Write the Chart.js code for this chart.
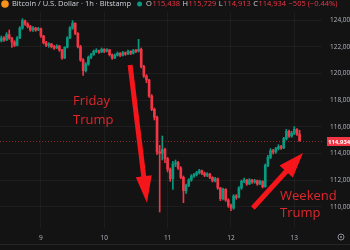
<!DOCTYPE html>
<html>
<head>
<meta charset="utf-8">
<script src="https://cdn.jsdelivr.net/npm/chart.js@4.4.1/dist/chart.umd.min.js"></script>
<style>
  html, body { margin: 0; padding: 0; background: #131313; }
  #wrap { width: 350px; height: 250px; }
</style>
</head>
<body>
<div id="wrap"><canvas id="btcChart" width="350" height="250"></canvas></div>
<script>
// BTC / USD, 1h candles from Bitstamp, first candle is 09:00 on the 8th
const opens = [
  122450, 122650, 122500, 122900, 122650, 122350, 122100, 122650, 123400, 123950, 123700, 123500,
  123250, 123400, 123250, 123350, 122800, 122300, 122100, 122200, 122000, 121900, 122050, 121750,
  121150, 121950, 122650, 123400, 123750, 123000, 122000, 121000, 120200, 120700, 121200, 121400,
  121650, 121700, 121600, 121800, 121650, 121750, 121400, 121150, 121350, 121500, 121350, 121550,
  121450, 121650, 121500, 121700, 121650, 121800, 120500, 119800, 119500, 118300, 117300, 116700,
  114100, 114000, 114300, 113600, 112800, 112100, 113200, 113300, 112900, 112200, 111200, 111600,
  112000, 112300, 112400, 112550, 112700, 112500, 112350, 112450, 112200, 111950, 112100, 111400,
  110600, 111300, 110500, 110100, 109900, 110800, 110700, 111400, 111900, 112000, 111700, 112000,
  111850, 111950, 111700, 111900, 111500, 113100, 113700, 114200, 114100, 114350, 114500, 114400,
  115100, 115650, 115300, 115500, 115800, 115438
];
const highs = [
  122800, 122750, 123050, 123250, 122700, 122450, 122750, 123500, 124100, 124000, 123800, 123600,
  123500, 123450, 123450, 123400, 122850, 122400, 122300, 122250, 122100, 122150, 122100, 121800,
  122000, 122750, 123500, 123950, 123800, 123050, 122100, 121100, 120800, 121300, 121500, 121750,
  121850, 121750, 121900, 121850, 121850, 121800, 121450, 121450, 121600, 121550, 121650, 121600,
  121750, 121700, 121800, 121800, 122550, 121900, 120600, 119900, 119550, 118400, 117400, 116800,
  114600, 115300, 114400, 113700, 112900, 113400, 113500, 113400, 113000, 112300, 111700, 112100,
  112400, 112500, 112650, 112800, 112750, 112600, 112550, 112500, 112250, 112200, 112150, 111450,
  111400, 111350, 110600, 110200, 110900, 110900, 111500, 112000, 112150, 112050, 112100, 112050,
  112050, 112000, 112000, 111950, 113200, 113850, 114350, 114300, 114450, 114650, 114600, 115200,
  115800, 115750, 115650, 116000, 115850, 115729
];
const lows = [
  122350, 122400, 122450, 122550, 121950, 122000, 122050, 122600, 123300, 123600, 123400, 123150,
  123150, 123150, 123200, 122700, 122200, 122000, 121950, 121900, 121800, 121850, 121650, 121050,
  121100, 121900, 122600, 123300, 122900, 121900, 120900, 119850, 120100, 120600, 121100, 121350,
  121550, 121500, 121550, 121550, 121600, 121300, 121050, 121100, 121300, 121250, 121300, 121350,
  121400, 121400, 121450, 121550, 121600, 120400, 119700, 119300, 118200, 117200, 116500, 113900,
  109600, 113500, 113300, 112600, 111900, 111300, 113000, 112800, 112100, 110300, 111000, 111500,
  111900, 112200, 112300, 112450, 112400, 112250, 112250, 112100, 111850, 111850, 111300, 110450,
  110500, 110400, 109950, 109700, 109800, 110550, 110650, 111300, 111800, 111600, 111650, 111750,
  111750, 111600, 111650, 111400, 111450, 113000, 113600, 113950, 114000, 114250, 114300, 114350,
  115000, 115200, 115200, 115400, 115350, 114913
];
const closes = [
  122650, 122500, 122900, 122650, 122350, 122100, 122650, 123400, 123950, 123700, 123500, 123250,
  123400, 123250, 123350, 122800, 122300, 122100, 122200, 122000, 121900, 122050, 121750, 121150,
  121950, 122650, 123400, 123750, 123000, 122000, 121000, 120200, 120700, 121200, 121400, 121650,
  121700, 121600, 121800, 121650, 121750, 121400, 121150, 121350, 121500, 121350, 121550, 121450,
  121650, 121500, 121700, 121650, 121800, 120500, 119800, 119500, 118300, 117300, 116700, 114100,
  114000, 114300, 113600, 112800, 112100, 113200, 113300, 112900, 112200, 111200, 111600, 112000,
  112300, 112400, 112550, 112700, 112500, 112350, 112450, 112200, 111950, 112100, 111400, 110600,
  111300, 110500, 110100, 109900, 110800, 110700, 111400, 111900, 112000, 111700, 112000, 111850,
  111950, 111700, 111900, 111500, 113100, 113700, 114200, 114100, 114350, 114500, 114400, 115100,
  115650, 115300, 115500, 115800, 115439, 114934
];

const firstDay = 8;
const firstHour = 9;
const emptySlots = 8;          // free space right of the last candle
const dayTicks = ['9', '10', '11', '12', '13'];
const priceTicks = [110000, 112000, 114000, 116000, 118000, 120000, 122000, 124000];
const priceMin = 108400;
const priceMax = 124600;

const GREEN = '#089981';
const RED = '#f23645';
const ARROW_RED = '#f5161b';
const TEXT_RED = '#e0262c';

// hourly slots
const slots = [];
for (let i = 0; i < closes.length + emptySlots; i++) {
    const h = firstHour + i;
    slots.push({ day: firstDay + Math.floor(h / 24), hour: h % 24 });
}
const labels = slots.map(s => s.day + ' ' + s.hour + ':00');

const bodies = opens.map((o, i) => [o, closes[i]]);
const wicks = lows.map((l, i) => [l, highs[i]]);

function candleColor(ctx) {
    const i = ctx.dataIndex;
    return closes[i] >= opens[i] ? GREEN : RED;
}

// Annotations (data coordinates: slot index, price)
const notes = [
    { text: 'Friday', at: [27.2, 117925] },
    { text: 'Trump', at: [27.2, 116500] },
    { text: 'Weekend', at: [105.6, 110800] },
    { text: 'Trump', at: [105.6, 109525] }
];
const arrows = [
    { from: [48.8, 120625], to: [55.2, 110275], head: 27, half: 8 },
    { from: [95.3, 109900], to: [114.3, 114025], head: 25, half: 9 }
];

function fmt(v) {
    return v.toLocaleString('en-US');
}

const overlay = {
    id: 'overlay',
    beforeDraw(chart) {
        const ctx = chart.ctx;
        ctx.save();
        ctx.fillStyle = '#131313';
        ctx.fillRect(0, 0, chart.width, chart.height);
        ctx.restore();
    },
    afterDatasetsDraw(chart) {
        const { ctx, chartArea } = chart;
        const x = chart.scales.x;
        const y = chart.scales.y;
        const last = closes.length - 1;

        ctx.save();

        // last price line
        const py = Math.round(y.getPixelForValue(closes[last])) + 0.5;
        ctx.strokeStyle = 'rgba(242, 54, 69, 0.55)';
        ctx.lineWidth = 1;
        ctx.setLineDash([1, 2]);
        ctx.beginPath();
        ctx.moveTo(chartArea.left, py);
        ctx.lineTo(chartArea.right, py);
        ctx.stroke();
        ctx.setLineDash([]);

        // arrows
        ctx.fillStyle = ARROW_RED;
        ctx.strokeStyle = ARROW_RED;
        arrows.forEach(a => {
            const x1 = x.getPixelForValue(a.from[0]);
            const y1 = y.getPixelForValue(a.from[1]);
            const x2 = x.getPixelForValue(a.to[0]);
            const y2 = y.getPixelForValue(a.to[1]);
            const len = Math.hypot(x2 - x1, y2 - y1);
            const ux = (x2 - x1) / len;
            const uy = (y2 - y1) / len;
            const bx = x2 - ux * a.head;
            const by = y2 - uy * a.head;

            ctx.lineWidth = 5;
            ctx.lineCap = 'butt';
            ctx.beginPath();
            ctx.moveTo(x1, y1);
            ctx.lineTo(bx + ux * 2, by + uy * 2);
            ctx.stroke();

            ctx.beginPath();
            ctx.moveTo(x2, y2);
            ctx.lineTo(bx - uy * a.half, by + ux * a.half);
            ctx.lineTo(bx + uy * a.half, by - ux * a.half);
            ctx.closePath();
            ctx.fill();
        });

        // annotation text
        ctx.fillStyle = TEXT_RED;
        ctx.font = '13px "Open Sans", "Noto Sans", sans-serif';
        ctx.textAlign = 'left';
        ctx.textBaseline = 'middle';
        notes.forEach(n => {
            ctx.fillText(n.text, x.getPixelForValue(n.at[0]), y.getPixelForValue(n.at[1]));
        });

        // last price tag on the axis
        ctx.fillStyle = RED;
        ctx.fillRect(chartArea.right + 5, py - 4.5, chart.width - chartArea.right - 5, 9);
        ctx.fillStyle = '#ffffff';
        ctx.font = 'bold 6px "Open Sans", sans-serif';
        ctx.fillText(fmt(closes[last]), chartArea.right + 6, py + 0.5);

        // header line
        ctx.fillStyle = '#f7931a';
        ctx.beginPath();
        ctx.arc(5, 4, 3.8, 0, Math.PI * 2);
        ctx.fill();

        ctx.font = '7.5px "Open Sans", "Noto Sans", sans-serif';
        ctx.textBaseline = 'middle';
        ctx.fillStyle = '#d1d4dc';
        const title = 'Bitcoin / U.S. Dollar · 1h · Bitstamp';
        ctx.fillText(title, 12, 4);
        let hx = 12 + ctx.measureText(title).width + 6;

        ctx.fillStyle = GREEN;
        ctx.beginPath();
        ctx.arc(hx + 2.5, 4, 2.5, 0, Math.PI * 2);
        ctx.fill();
        hx += 9;

        const change = closes[last] - closes[last - 1];
        const pct = change / closes[last - 1] * 100;
        const parts = [
            ['O', '#d1d4dc'], [fmt(opens[last]) + ' ', RED],
            ['H', '#d1d4dc'], [fmt(highs[last]) + ' ', RED],
            ['L', '#d1d4dc'], [fmt(lows[last]) + ' ', RED],
            ['C', '#d1d4dc'], [fmt(closes[last]) + ' ', RED],
            ['\u2212' + fmt(Math.abs(change)) + ' (\u2212' + Math.abs(pct).toFixed(2) + '%)', RED]
        ];
        parts.forEach(p => {
            ctx.fillStyle = p[1];
            ctx.fillText(p[0], hx, 4);
            hx += ctx.measureText(p[0]).width + 0.5;
        });

        // bottom strip
        ctx.strokeStyle = '#262626';
        ctx.lineWidth = 1;
        ctx.beginPath();
        ctx.moveTo(0, 244.5);
        ctx.lineTo(chart.width, 244.5);
        ctx.stroke();
        ctx.strokeStyle = '#8a8d96';
        ctx.beginPath();
        ctx.arc(341, 237, 3, 0, Math.PI * 2);
        ctx.stroke();
        ctx.fillStyle = '#8a8d96';
        ctx.beginPath();
        ctx.arc(341, 237, 1, 0, Math.PI * 2);
        ctx.fill();

        ctx.restore();
    }
};

const ctx = document.getElementById('btcChart').getContext('2d');

new Chart(ctx, {
    type: 'bar',

    data: {
        labels: labels,

        datasets: [{
            label: 'Body',
            data: bodies,
            backgroundColor: candleColor,
            barThickness: 2,
            minBarLength: 1,
            grouped: false,
            order: 0
        }, {
            label: 'Wick',
            data: wicks,
            backgroundColor: candleColor,
            barThickness: 1,
            grouped: false,
            order: 1
        }]
    },

    options: {
        responsive: false,
        animation: false,
        events: [],

        layout: {
            padding: { top: 12, left: 0, right: 0, bottom: 0 }
        },

        plugins: {
            legend: { display: false },
            tooltip: { enabled: false }
        },

        scales: {
            x: {
                type: 'category',
                offset: true,
                border: { display: false },
                grid: {
                    offset: false,
                    drawTicks: false,
                    color: 'rgba(255, 255, 255, 0.045)'
                },
                ticks: {
                    autoSkip: false,
                    maxRotation: 0,
                    padding: 6,
                    color: '#b2b5be',
                    font: { size: 6.5, family: '"Open Sans", sans-serif' },
                    callback: function (value, index) {
                        const s = slots[index];
                        if (s.hour !== 0) return null;
                        return dayTicks[s.day - firstDay - 1];
                    }
                },
                afterFit: function (scale) {
                    scale.height = 22;
                }
            },

            y: {
                position: 'right',
                min: priceMin,
                max: priceMax,
                border: { display: false },
                grid: {
                    drawTicks: false,
                    color: 'rgba(255, 255, 255, 0.045)'
                },
                ticks: {
                    padding: 8,
                    color: '#b2b5be',
                    font: { size: 6.5, family: '"Open Sans", sans-serif' },
                    callback: v => fmt(v)
                },
                afterBuildTicks: function (scale) {
                    scale.ticks = priceTicks.map(v => ({ value: v }));
                },
                afterFit: function (scale) {
                    scale.width = 28;
                }
            }
        }
    },

    plugins: [overlay]
});
</script>
</body>
</html>
